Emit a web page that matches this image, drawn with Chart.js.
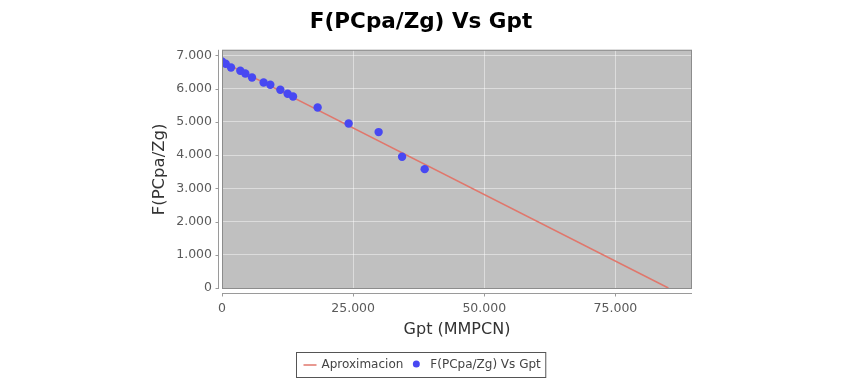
<!DOCTYPE html>
<html>
<head>
<meta charset="utf-8">
<script src="https://cdn.jsdelivr.net/npm/chart.js@4/dist/chart.umd.min.js"></script>
<style>
  html, body { margin: 0; background: #fff; }
  #wrap { width: 849px; height: 381px; }
</style>
</head>
<body>
<div id="wrap"><canvas id="chart"></canvas></div>
<script>
// measured points: Gpt (MMPCN) vs F(PCpa/Zg)
const gptValues = [0, 700, 1716, 3490, 4443, 5720, 7930, 9210, 11120, 12510, 13540, 18230, 24140, 29860, 34330, 38640];
const fValues   = [6820, 6750, 6639, 6539, 6458, 6337, 6187, 6117, 5967, 5846, 5765, 5434, 4952, 4693, 3949, 3578];

// fitted line (Aproximacion), two end points
const fitX = [0, 85100];
const fitY = [6820, 0];

const xTicks = [0, 25000, 50000, 75000];
const yTicks = [0, 1000, 2000, 3000, 4000, 5000, 6000, 7000];

const FONT = "'DejaVu Sans', Verdana, sans-serif";

function fmt(v) {
  return String(v).replace(/\B(?=(\d{3})+(?!\d))/g, '.');
}

// gray plot area, outline, offset axis lines and the boxed legend
const plotDecor = {
  id: 'plotDecor',
  beforeDraw(chart) {
    const a = chart.chartArea, ctx = chart.ctx;
    ctx.save();
    ctx.fillStyle = '#c0c0c0';
    ctx.fillRect(a.left, a.top, a.right - a.left, a.bottom - a.top);
    ctx.restore();
  },
  afterDraw(chart) {
    const a = chart.chartArea, ctx = chart.ctx;
    const xs = chart.scales.x, ys = chart.scales.y;
    ctx.save();
    ctx.strokeStyle = '#8c8c8c';
    ctx.lineWidth = 1;
    ctx.strokeRect(a.left + 0.5, a.top + 0.5, a.right - a.left - 1, a.bottom - a.top - 1);

    // axis lines, a few px away from the plot
    ctx.strokeStyle = '#9a9a9a';
    const ax = a.bottom + 4.5, ay = a.left - 3.5;
    ctx.beginPath();
    ctx.moveTo(a.left, ax); ctx.lineTo(a.right, ax);
    ctx.moveTo(ay, a.top); ctx.lineTo(ay, a.bottom);
    xTicks.forEach(v => { const p = Math.round(xs.getPixelForValue(v)) + 0.5; ctx.moveTo(p, ax); ctx.lineTo(p, ax + 3); });
    yTicks.forEach(v => { const p = Math.round(ys.getPixelForValue(v)) + 0.5; ctx.moveTo(ay, p); ctx.lineTo(ay - 3, p); });
    ctx.stroke();

    // legend
    const ds = chart.data.datasets;
    ctx.font = '12px ' + FONT;
    ctx.textBaseline = 'middle';
    const w0 = ctx.measureText(ds[0].label).width;
    const w1 = ctx.measureText(ds[1].label).width;
    const boxW = 7 + 13 + 5 + w0 + 13 + 14 + w1 + 5;
    const boxL = Math.round(420.5 - boxW / 2) + 0.5;
    const boxT = 352.5, boxH = 25, cy = boxT + boxH / 2;
    ctx.strokeStyle = '#555';
    ctx.strokeRect(boxL, boxT, boxW, boxH);
    let x = boxL + 7;
    ctx.strokeStyle = ds[0].borderColor;
    ctx.lineWidth = 1.5;
    ctx.beginPath(); ctx.moveTo(x, cy); ctx.lineTo(x + 13, cy); ctx.stroke();
    x += 18;
    ctx.fillStyle = '#444';
    ctx.fillText(ds[0].label, x, cy);
    x += w0 + 13;
    ctx.fillStyle = ds[1].backgroundColor;
    ctx.beginPath(); ctx.arc(x, cy - 1, 3.5, 0, Math.PI * 2); ctx.fill();
    x += 14;
    ctx.fillStyle = '#444';
    ctx.fillText(ds[1].label, x, cy);
    ctx.restore();
  }
};

new Chart(document.getElementById('chart'), {
  type: 'scatter',
  data: {
    datasets: [
      {
        label: 'Aproximacion',
        data: fitX.map((x, i) => ({ x: x, y: fitY[i] })),
        showLine: true,
        borderColor: '#e0776c',
        borderWidth: 1.5,
        pointRadius: 0,
        order: 2
      },
      {
        label: 'F(PCpa/Zg) Vs Gpt',
        data: gptValues.map((x, i) => ({ x: x, y: fValues[i] })),
        backgroundColor: '#4848f2',
        borderWidth: 0,
        pointRadius: 4.2,
        order: 1
      }
    ]
  },
  options: {
    responsive: true,
    maintainAspectRatio: false,
    animation: false,
    layout: { padding: { left: 150, right: 157, top: 0, bottom: 32 } },
    plugins: {
      legend: { display: false },
      tooltip: { enabled: false },
      title: {
        display: true,
        text: 'F(PCpa/Zg) Vs Gpt',
        color: '#000',
        font: { family: FONT, size: 21.5, weight: 'bold' },
        padding: { top: 10, bottom: 14 }
      }
    },
    scales: {
      x: {
        type: 'linear',
        min: 0,
        max: 89600,
        afterFit(s) { s.height = 60; },
        afterBuildTicks(s) { s.ticks = xTicks.map(v => ({ value: v })); },
        grid: { color: 'rgba(255,255,255,0.45)', drawTicks: false },
        border: { display: false },
        ticks: { padding: 12, color: '#5a5a5a', font: { family: FONT, size: 12.5 }, maxRotation: 0, callback: v => fmt(v) },
        title: { display: true, text: 'Gpt (MMPCN)', color: '#333', font: { family: FONT, size: 16 }, padding: { top: 0, bottom: 10 } }
      },
      y: {
        type: 'linear',
        min: -30,
        max: 7170,
        afterFit(s) { s.width = 72; },
        afterBuildTicks(s) { s.ticks = yTicks.map(v => ({ value: v })); },
        grid: { color: 'rgba(255,255,255,0.45)', drawTicks: false },
        border: { display: false },
        ticks: { padding: 10, color: '#5a5a5a', font: { family: FONT, size: 12.5 }, callback: v => fmt(v) },
        title: { display: true, text: 'F(PCpa/Zg)', color: '#333', font: { family: FONT, size: 16.5 }, padding: { top: 0, bottom: 0 } }
      }
    }
  },
  plugins: [plotDecor]
});
</script>
</body>
</html>
